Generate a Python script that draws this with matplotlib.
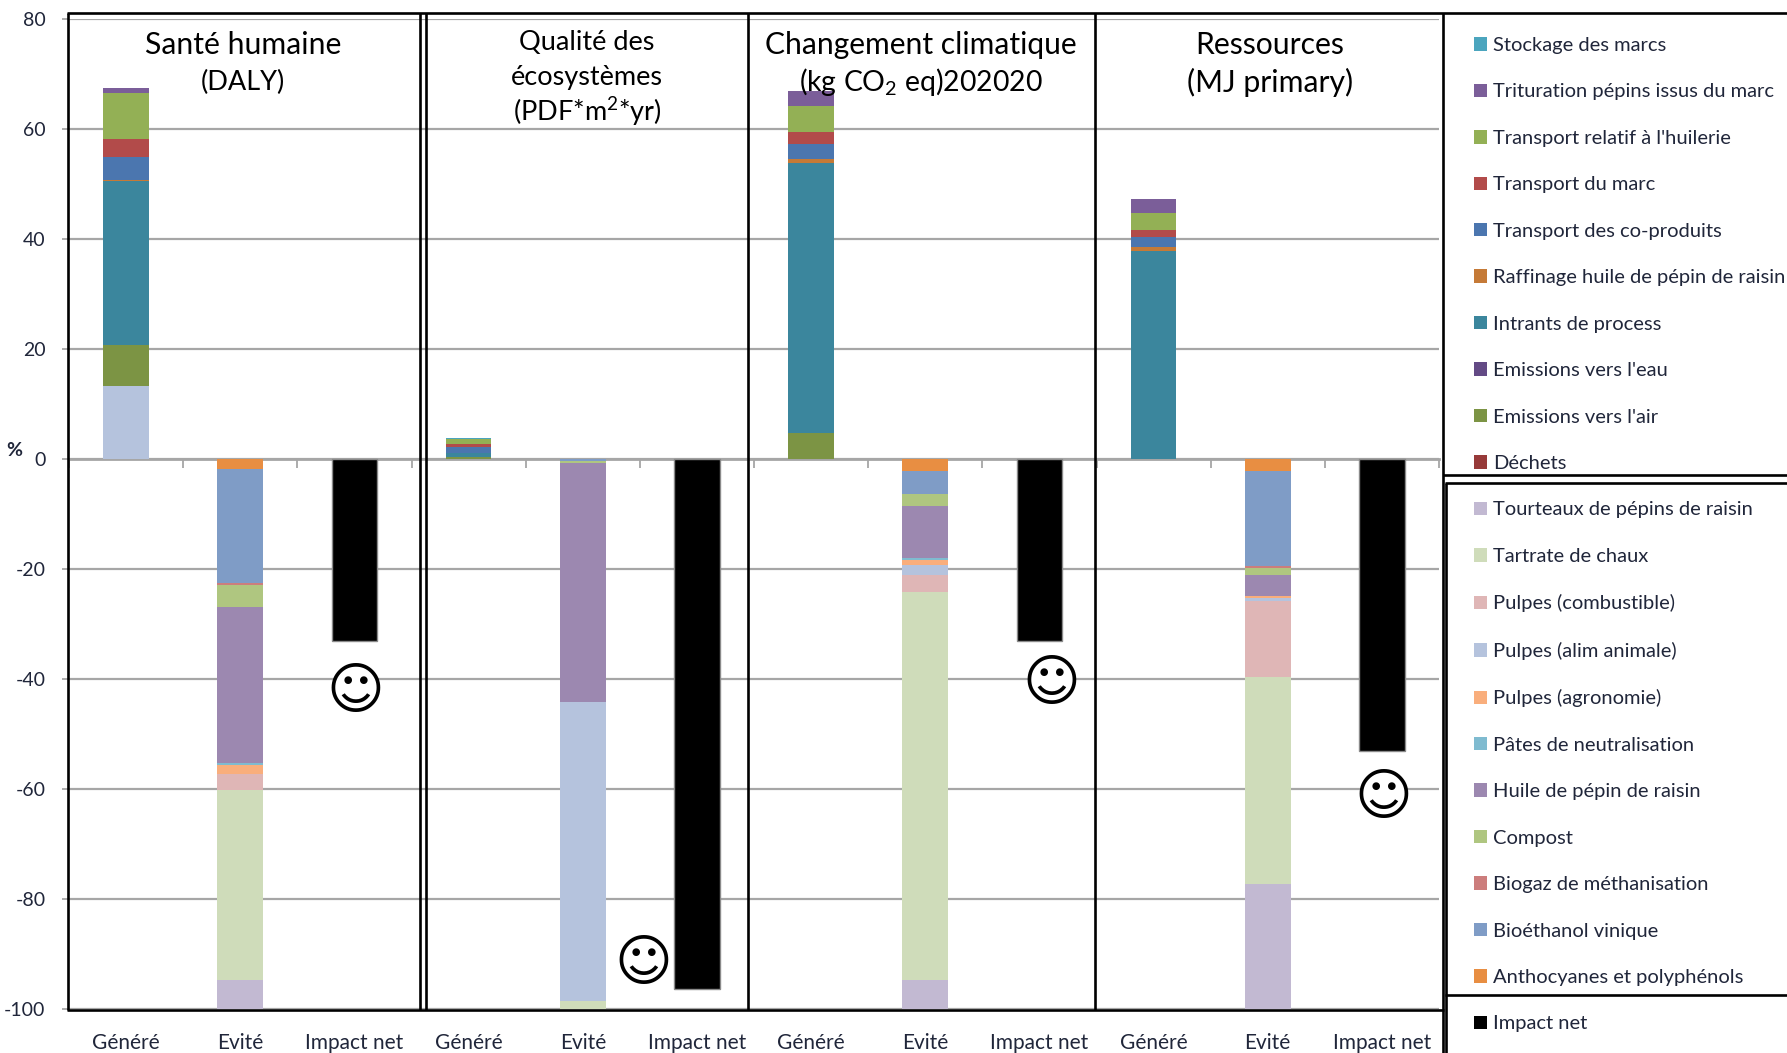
import matplotlib
matplotlib.use("Agg")
import matplotlib.pyplot as plt
import numpy as np
from matplotlib.lines import Line2D
from matplotlib.patches import Patch

plt.rcParams["font.family"] = ["Lato", "DejaVu Sans"]
plt.rcParams["mathtext.default"] = "regular"
plt.rcParams["axes.unicode_minus"] = False

WIDTH, HEIGHT = 1787, 1053
INK = "#20263a"

# Impact categories, one value per panel
panels = ["Santé humaine", "Qualité des écosystèmes", "Changement climatique", "Ressources"]
bar_labels = ["Généré", "Evité", "Impact net"]

# Generated impacts (%), stacked upward
gen_pulpes_alim = [13.3, 0, 0, 0]
gen_air = [7.4, 0.4, 4.7, 0]
gen_intrants = [29.8, 0.7, 49.2, 37.9]
gen_raffinage = [0.3, 0, 0.6, 0.6]
gen_coproduits = [4.1, 1.0, 2.8, 1.9]
gen_transport_marc = [3.3, 0.6, 2.2, 1.2]
gen_huilerie = [8.3, 0.85, 4.6, 3.1]
gen_trituration = [1.0, 0, 2.8, 2.5]
gen_stockage = [0, 0.25, 0, 0]

# Avoided impacts (%), stacked downward from zero
av_anthocyanes = [1.75, 0, 2.1, 2.1]
av_bioethanol = [20.85, 0.4, 4.25, 17.4]
av_biogaz = [0.3, 0, 0, 0.35]
av_compost = [4.0, 0.3, 2.15, 1.15]
av_huile = [28.4, 43.5, 9.5, 3.9]
av_pates = [0.4, 0, 0.3, 0]
av_agronomie = [1.5, 0, 1.0, 0.4]
av_alim = [0, 54.3, 1.8, 0.6]
av_combustible = [3.0, 0, 3.0, 13.8]
av_tartrate = [34.6, 1.5, 70.7, 37.6]
av_tourteaux = [5.2, 0, 5.2, 22.7]

impact_net = [-33.0, -96.4, -33.0, -53.1]

yticks = [80, 60, 40, 20, 0, -20, -40, -60, -80, -100]

colors = {
    "Stockage des marcs": "#4ba5be",
    "Trituration pépins issus du marc": "#7b5e99",
    "Transport relatif à l'huilerie": "#93b055",
    "Transport du marc": "#b24b4a",
    "Transport des co-produits": "#4b76af",
    "Raffinage huile de pépin de raisin": "#c57a37",
    "Intrants de process": "#3b869d",
    "Emissions vers l'eau": "#634a85",
    "Emissions vers l'air": "#7c9444",
    "Déchets": "#973a39",
    "Tourteaux de pépins de raisin": "#c2b9d2",
    "Tartrate de chaux": "#cfdcba",
    "Pulpes (combustible)": "#dfb6b6",
    "Pulpes (alim animale)": "#b5c3dd",
    "Pulpes (agronomie)": "#f9ae7c",
    "Pâtes de neutralisation": "#7fbbd0",
    "Huile de pépin de raisin": "#9c88b0",
    "Compost": "#afc680",
    "Biogaz de méthanisation": "#cc7d7c",
    "Bioéthanol vinique": "#7f9cc6",
    "Anthocyanes et polyphénols": "#e88e42",
    "Impact net": "#000000",
}

generated_stack = [
    ("Pulpes (alim animale)", gen_pulpes_alim),
    ("Emissions vers l'air", gen_air),
    ("Intrants de process", gen_intrants),
    ("Raffinage huile de pépin de raisin", gen_raffinage),
    ("Transport des co-produits", gen_coproduits),
    ("Transport du marc", gen_transport_marc),
    ("Transport relatif à l'huilerie", gen_huilerie),
    ("Trituration pépins issus du marc", gen_trituration),
    ("Stockage des marcs", gen_stockage),
]
avoided_stack = [
    ("Anthocyanes et polyphénols", av_anthocyanes),
    ("Bioéthanol vinique", av_bioethanol),
    ("Biogaz de méthanisation", av_biogaz),
    ("Compost", av_compost),
    ("Huile de pépin de raisin", av_huile),
    ("Pâtes de neutralisation", av_pates),
    ("Pulpes (agronomie)", av_agronomie),
    ("Pulpes (alim animale)", av_alim),
    ("Pulpes (combustible)", av_combustible),
    ("Tartrate de chaux", av_tartrate),
    ("Tourteaux de pépins de raisin", av_tourteaux),
]


def fx(px):
    return px / WIDTH


def fy(px):
    return 1 - px / HEIGHT


fig = plt.figure(figsize=(WIDTH / 100, HEIGHT / 100), dpi=100, facecolor="white")
ax = fig.add_axes([fx(69), fy(1009), fx(1439) - fx(69), fy(19) - fy(1009)])

n_panels = len(panels)
n_bars = len(bar_labels)
gen_x = np.arange(n_panels) * n_bars + 0.5
av_x = gen_x + 1
net_x = gen_x + 2
BAR_W = 0.4

bottom = np.zeros(n_panels)
for name, values in generated_stack:
    ax.bar(gen_x, values, BAR_W, bottom=bottom, color=colors[name], zorder=3)
    bottom += np.array(values)

bottom = np.zeros(n_panels)
for name, values in avoided_stack:
    ax.bar(av_x, -np.array(values), BAR_W, bottom=bottom, color=colors[name], zorder=3)
    bottom -= np.array(values)

ax.bar(net_x, impact_net, BAR_W, color=colors["Impact net"],
       edgecolor="#8a8a8a", linewidth=1, zorder=3)

ax.set_xlim(0, n_panels * n_bars)
ax.set_ylim(-100, 80)
ax.patch.set_visible(False)

# Category axis runs along zero, with its labels below the plot
for side in ("top", "right", "left"):
    ax.spines[side].set_visible(False)
ax.spines["bottom"].set_position(("data", 0))
ax.spines["bottom"].set_color("#a6a6a6")
ax.spines["bottom"].set_linewidth(2)
ax.spines["bottom"].set_zorder(2)
ax.set_xticks(np.arange(n_panels * n_bars + 1))
ax.tick_params(axis="x", which="major", direction="out", length=6.5, width=1.3,
               color="#a6a6a6", labelbottom=False)

lower = ax.secondary_xaxis("bottom")
lower.spines["bottom"].set_visible(False)
lower.set_xticks(np.arange(n_panels * n_bars) + 0.5)
lower.set_xticklabels(bar_labels * n_panels, fontsize=15, color=INK)
lower.tick_params(axis="x", length=0, pad=17)

ax.set_yticks(yticks)
ax.tick_params(axis="y", length=5, width=1.3, color="#a6a6a6",
               labelsize=14, labelcolor=INK, pad=12)
ax.grid(axis="y", color="#a6a6a6", linewidth=1.6, zorder=1)
ax.set_axisbelow(True)

# Smiley beside each net impact bar, on a white disc that hides the grid
smiley_x = [net_x[0] + 0.01, net_x[1] - 0.47, net_x[2] + 0.10, net_x[3] + 0.01]
smiley_y = [-41.8, -91.3, -40.4, -61.2]
ax.scatter(smiley_x, smiley_y, s=1050, color="white", zorder=4, linewidths=0)
for sx, sy in zip(smiley_x, smiley_y):
    ax.text(sx, sy - 0.7, "\u263a", family="DejaVu Sans", fontsize=40, color="black",
            ha="center", va="center", zorder=5)


def frame_line(x0, y0, x1, y1, lw=1.9):
    fig.add_artist(Line2D([fx(x0), fx(x1)], [fy(y0), fy(y1)], color="black",
                          linewidth=lw, solid_capstyle="butt", zorder=6))


# Panel frames
frame_line(67, 13, WIDTH, 13)
frame_line(67, 1010, 1444, 1010)
for x in (67.5, 420, 426, 748, 1095):
    frame_line(x, 13, x, 1010)
frame_line(1443, 13, 1443, HEIGHT)
frame_line(1445.5, 483, 1445.5, HEIGHT)
frame_line(1443, 475, WIDTH, 475)
frame_line(1445, 483, WIDTH, 483)
frame_line(1445, 995, WIDTH, 995)

# Panel headings
title_kw = dict(color="black", ha="center", va="center", zorder=7)
fig.text(fx(243), fy(45), "Santé humaine", fontsize=21.7, **title_kw)
fig.text(fx(243), fy(82), "(DALY)", fontsize=19.5, **title_kw)
fig.text(fx(587), fy(43), "Qualité des", fontsize=19.5, **title_kw)
fig.text(fx(587), fy(78), "écosystèmes", fontsize=19.5, **title_kw)
fig.text(fx(587), fy(112), "(PDF*m$^{2}$*yr)", fontsize=19.5, **title_kw)
fig.text(fx(921), fy(45), "Changement climatique", fontsize=21.6, **title_kw)
fig.text(fx(921), fy(82), "(kg CO$_{2}$ eq)202020", fontsize=20.4, **title_kw)
fig.text(fx(1270), fy(45), "Ressources", fontsize=21.7, **title_kw)
fig.text(fx(1270), fy(82), "(MJ primary)", fontsize=21.7, **title_kw)

fig.text(fx(14), fy(450), "%", fontsize=14, fontweight="bold", color=INK,
         ha="center", va="center")

# Single legend listing every series, top to bottom
handles = [Patch(facecolor=c, edgecolor="none", label=name) for name, c in colors.items()]
fig.legend(handles=handles, loc="upper left", bbox_to_anchor=(fx(1474), fy(37)),
           frameon=False, fontsize=14.5, labelcolor=INK, labelspacing=1.462,
           borderpad=0, borderaxespad=0, handlelength=0.65, handleheight=0.65,
           handletextpad=0.3)

fig.savefig("out.png", dpi=100, facecolor="white")
